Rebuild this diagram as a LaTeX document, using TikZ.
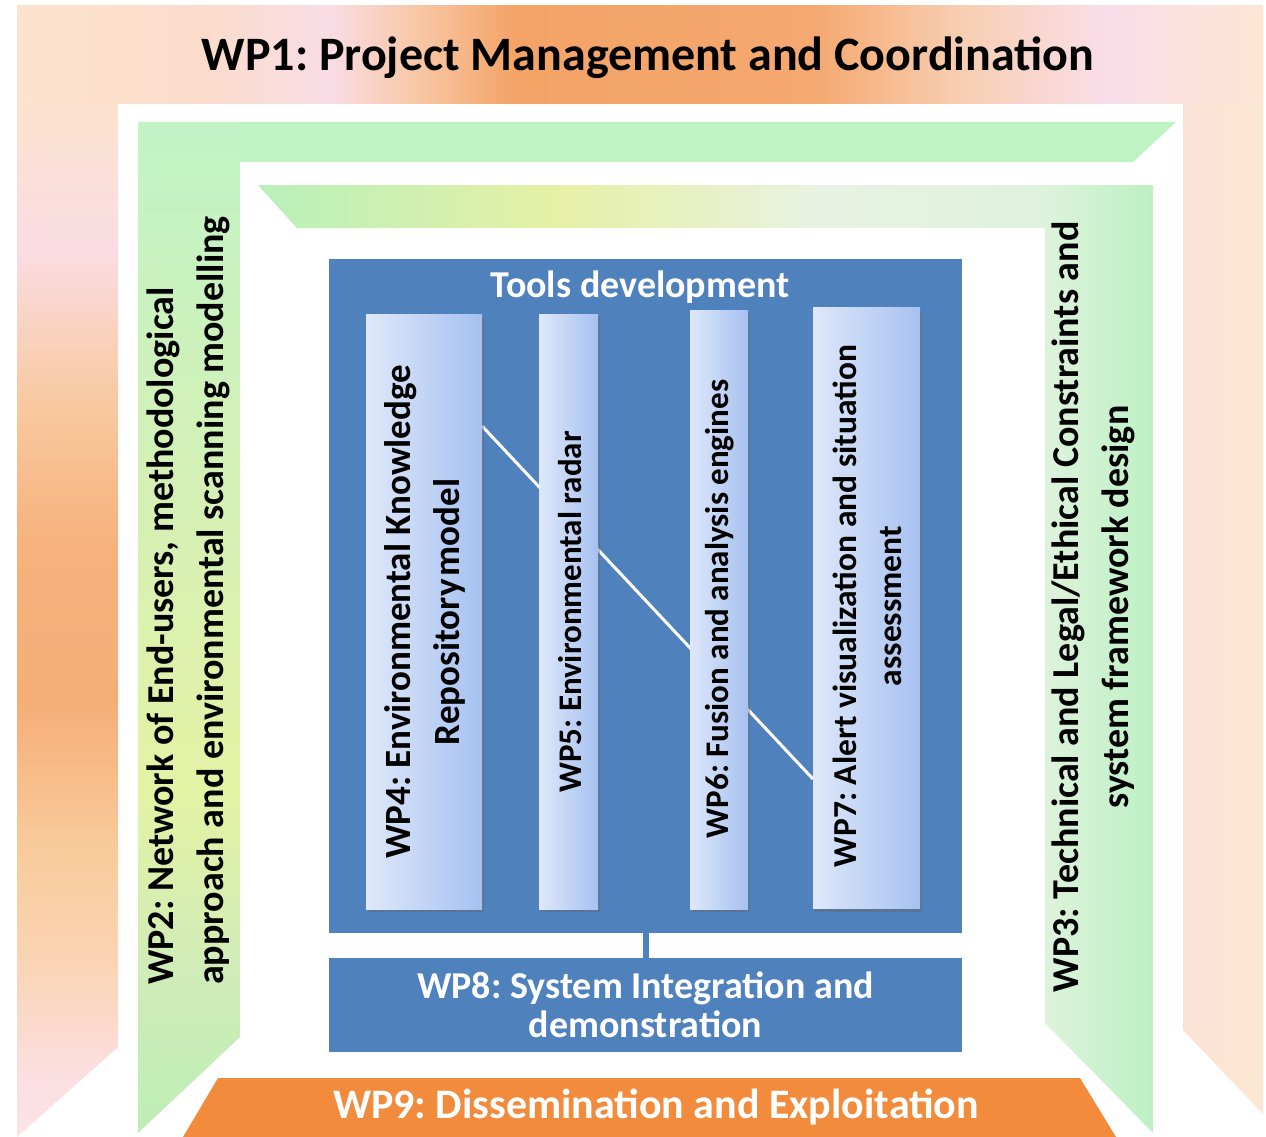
\documentclass[tikz,border=0pt]{standalone}
\usepackage{fontspec}
\setmainfont{Carlito}
\usetikzlibrary{shadows}
\definecolor{boxblue}{HTML}{4F81BD}
\definecolor{wpnine}{HTML}{F28B3C}
\definecolor{colL}{HTML}{DEE8F9}
\definecolor{colR}{HTML}{A6C1F1}
\definecolor{gtop}{HTML}{C0F3C4}
\definecolor{wpthreeL}{HTML}{DDF3DB}
\definecolor{wpthreeR}{HTML}{BDF0C4}
\pgfdeclarehorizontalshading{wponetop}{100bp}{color(0bp)=(rgb,255:red,252;green,227;blue,204); color(25bp)=(rgb,255:red,252;green,227;blue,204); color(32.5bp)=(rgb,255:red,251;green,220;blue,203); color(37.5bp)=(rgb,255:red,249;green,220;blue,230); color(41bp)=(rgb,255:red,248;green,200;blue,166); color(45bp)=(rgb,255:red,244;green,163;blue,102); color(57bp)=(rgb,255:red,245;green,168;blue,112); color(63bp)=(rgb,255:red,248;green,207;blue,179); color(68.75bp)=(rgb,255:red,249;green,221;blue,233); color(75bp)=(rgb,255:red,252;green,230;blue,210); color(100bp)=(rgb,255:red,252;green,230;blue,210)}
\pgfdeclareverticalshading{wponeleft}{100bp}{color(0bp)=(rgb,255:red,252;green,227;blue,230); color(25bp)=(rgb,255:red,252;green,227;blue,230); color(27.75bp)=(rgb,255:red,251;green,223;blue,226); color(34bp)=(rgb,255:red,250;green,211;blue,176); color(39bp)=(rgb,255:red,249;green,203;blue,156); color(46bp)=(rgb,255:red,245;green,174;blue,120); color(53.5bp)=(rgb,255:red,246;green,177;blue,124); color(60.5bp)=(rgb,255:red,248;green,201;blue,160); color(68bp)=(rgb,255:red,250;green,220;blue,227); color(75bp)=(rgb,255:red,252;green,226;blue,206); color(100bp)=(rgb,255:red,252;green,226;blue,206)}
\pgfdeclarehorizontalshading{wponeright}{100bp}{color(0bp)=(rgb,255:red,251;green,226;blue,214); color(25bp)=(rgb,255:red,251;green,226;blue,214); color(75bp)=(rgb,255:red,252;green,232;blue,210); color(100bp)=(rgb,255:red,252;green,232;blue,210)}
\pgfdeclareverticalshading{wptwoarm}{100bp}{color(0bp)=(rgb,255:red,189;green,237;blue,181); color(25bp)=(rgb,255:red,189;green,237;blue,181); color(33bp)=(rgb,255:red,208;green,236;blue,184); color(42bp)=(rgb,255:red,228;green,242;blue,164); color(55bp)=(rgb,255:red,214;green,240;blue,180); color(75bp)=(rgb,255:red,194;green,243;blue,198); color(100bp)=(rgb,255:red,194;green,243;blue,198)}
\pgfdeclarehorizontalshading{wpthreetop}{100bp}{color(0bp)=(rgb,255:red,184;green,240;blue,186); color(25bp)=(rgb,255:red,184;green,240;blue,186); color(44bp)=(rgb,255:red,230;green,240;blue,166); color(61bp)=(rgb,255:red,232;green,242;blue,226); color(75bp)=(rgb,255:red,222;green,242;blue,220); color(100bp)=(rgb,255:red,222;green,242;blue,220)}
\tikzset{
  colbox/.style={inner sep=0pt, left color=colL, right color=colR, draw=none,
    drop shadow={shadow xshift=2pt, shadow yshift=-3pt, opacity=0.45, fill=black!60}},
  rtext/.style={rotate=90, inner sep=0pt, align=center, text=black,
    font=\bfseries\fontsize{33}{49}\selectfont},
  sidetext/.style={rtext, font=\bfseries\fontsize{38}{50}\selectfont},
  wtext/.style={inner sep=0pt, align=center, text=white},
}
\begin{document}
\frenchspacing
\begin{tikzpicture}[x=1pt, y=-1pt]
\useasboundingbox (0,0) rectangle (1266,1137);
\fill[white] (0,0) rectangle (1266,1137);
% WP1 frame
\shade[shading=wponetop] (17,6) -- (1263,6) -- (1263,104) -- (17,104) -- cycle;
\shade[shading=wponeleft] (17,104) -- (118,104) -- (118,1047) -- (17,1137) -- cycle;
\shade[shading=wponeright] (1183,104) -- (1263,104) -- (1263,1114) -- (1183,1030) -- cycle;
% WP2 frame
\shade[shading=wptwoarm] (138,122) -- (240,122) -- (240,1037) -- (138,1133) -- cycle;
\fill[gtop] (240,122) -- (1176,122) -- (1133,162) -- (240,162) -- cycle;
% WP3 frame
\shade[shading=wpthreetop] (258,185) -- (1045,185) -- (1045,228) -- (297,228) -- cycle;
\shade[left color=wpthreeL, right color=wpthreeR] (1045,185) -- (1153,185) -- (1153,1133) -- (1045,1023) -- cycle;
% WP9
\fill[wpnine] (218,1078) -- (1080,1078) -- (1116,1137) -- (183,1137) -- cycle;
% tools box
\node[fill=boxblue, inner sep=0pt, minimum width=633pt, minimum height=674pt] (tools) at (645.5,596) {};
\node[fill=boxblue, inner sep=0pt, minimum width=633pt, minimum height=94pt, wtext,
  font=\bfseries\fontsize{38}{39}\selectfont] (wp8) at (645.5,1005) {WP8: System Integration and\\demonstration};
\draw[boxblue, line width=6pt] (tools.south) -- (wp8.north);
\node[wtext, font=\bfseries\fontsize{38}{40}\selectfont] (tdev) at (640,287) {Tools development};
% diagonal line behind the columns
\coordinate (d1) at (482,426);
\coordinate (d2) at (813,779);
\draw[white, line width=3pt] (d1) -- (d2);
% columns
\node[colbox, minimum width=116pt, minimum height=595pt] (c4) at (424,611.5) {};
\node[colbox, minimum width=59pt, minimum height=595pt] (c5) at (568.5,611.5) {};
\node[colbox, minimum width=58pt, minimum height=599pt] (c6) at (719,609.5) {};
\node[colbox, minimum width=107pt, minimum height=601pt] (c7) at (866.5,608) {};
\node[rtext, font=\bfseries\fontsize{37}{49}\selectfont] (t4) at (425,612) {WP4: Environmental Knowledge\\Repository\hspace{0.08em}model};
\node[rtext] (t5) at (570,612) {WP5: Environmental radar};
\node[rtext] (t6) at (720,609) {WP6: Fusion and analysis engines};
\node[rtext, font=\bfseries\fontsize{33.5}{45}\selectfont] (t7) at (867,606) {WP7: Alert visualization and situation\\assessment};
% side texts
\node[sidetext, align=left, anchor=west] (t2) at (188,985) {WP2: Network of End-users, methodological\\approach and environmental scanning modelling};
\node[sidetext] (t3) at (1093,607) {WP3: Technical and Legal/Ethical Constraints and\\system framework design};
% titles
\node[inner sep=0pt, text=black, font=\bfseries\fontsize{48}{52}\selectfont] (t1) at (648,58) {WP1: Project Management and Coordination};
\node[wtext, font=\bfseries\fontsize{42}{44}\selectfont] (t9) at (656,1107) {WP9: Dissemination and Exploitation};
\end{tikzpicture}
\end{document}
